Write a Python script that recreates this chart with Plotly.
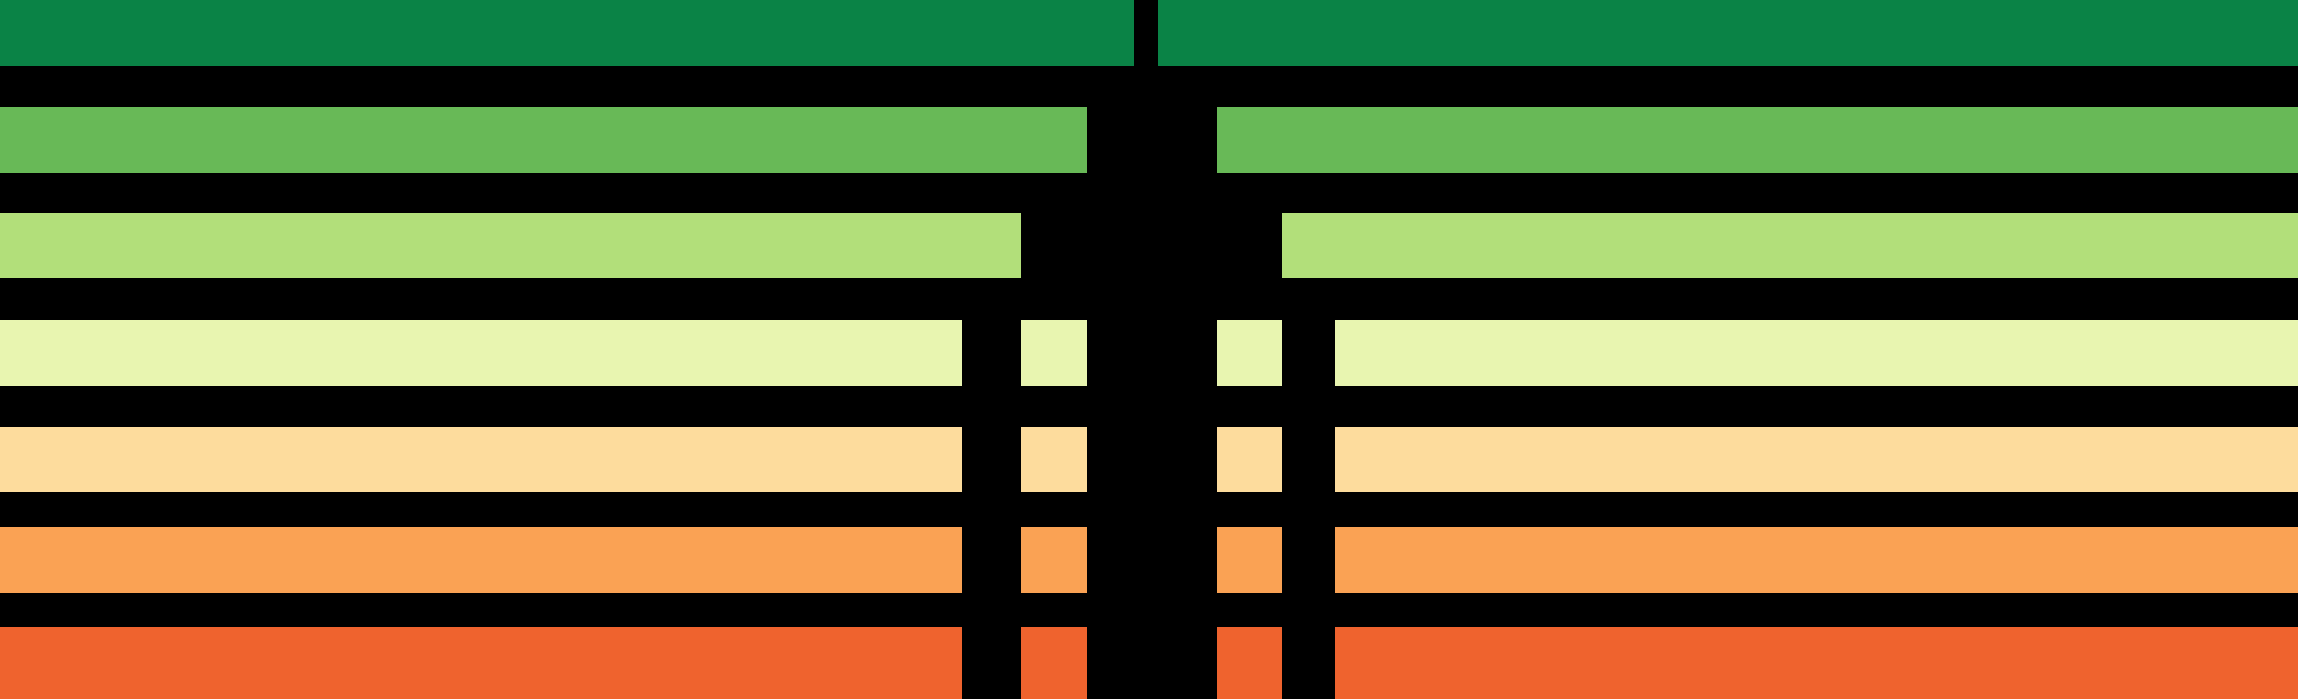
import plotly.graph_objects as go

# rows from top to bottom: top edge and thickness (pixels of the original graphic)
row_top = [0, 107, 213, 320, 427, 527, 627]
row_height = [66, 66, 65, 66, 65, 66, 72]
row_colors = ['#0A8346', '#68B957', '#B2DF7A', '#E8F5B0', '#FDDC9D', '#FAA254', '#EF632E']

# segment start / end per row (None where the segment is absent)
outer_left_start = [0, 0, 0, 0, 0, 0, 0]
outer_left_end = [1134, 1087, 1021, 962, 962, 962, 962]
inner_left_start = [None, None, None, 1021, 1021, 1021, 1021]
inner_left_end = [None, None, None, 1087, 1087, 1087, 1087]
inner_right_start = [None, None, None, 1217, 1217, 1217, 1217]
inner_right_end = [None, None, None, 1282, 1282, 1282, 1282]
outer_right_start = [1158, 1217, 1282, 1335, 1335, 1335, 1335]
outer_right_end = [2298, 2298, 2298, 2298, 2298, 2298, 2298]

W, H = 2298, 699

centers = [t + h / 2 for t, h in zip(row_top, row_height)]
segments = [
    (outer_left_start, outer_left_end),
    (inner_left_start, inner_left_end),
    (inner_right_start, inner_right_end),
    (outer_right_start, outer_right_end),
]

fig = go.Figure()
for starts, ends in segments:
    ys, xs, bases, widths, cols = [], [], [], [], []
    for i, (s, e) in enumerate(zip(starts, ends)):
        if s is None:
            continue
        ys.append(centers[i])
        xs.append(e - s)
        bases.append(s)
        widths.append(row_height[i])
        cols.append(row_colors[i])
    fig.add_trace(go.Bar(x=xs, y=ys, base=bases, width=widths, orientation='h',
                         marker=dict(color=cols, line=dict(width=0)),
                         hoverinfo='skip', showlegend=False))

fig.update_layout(width=W, height=H, margin=dict(l=0, r=0, t=0, b=0),
                  paper_bgcolor='black', plot_bgcolor='black', barmode='overlay',
                  xaxis=dict(range=[0, W], visible=False, fixedrange=True),
                  yaxis=dict(range=[H, 0], visible=False, fixedrange=True))

# drop the default page margin so the black chart fills the window
page_fix = "document.body.style.margin='0';document.body.style.background='black';"
fig.write_html("out.html", post_script=page_fix, config={'displayModeBar': False})
